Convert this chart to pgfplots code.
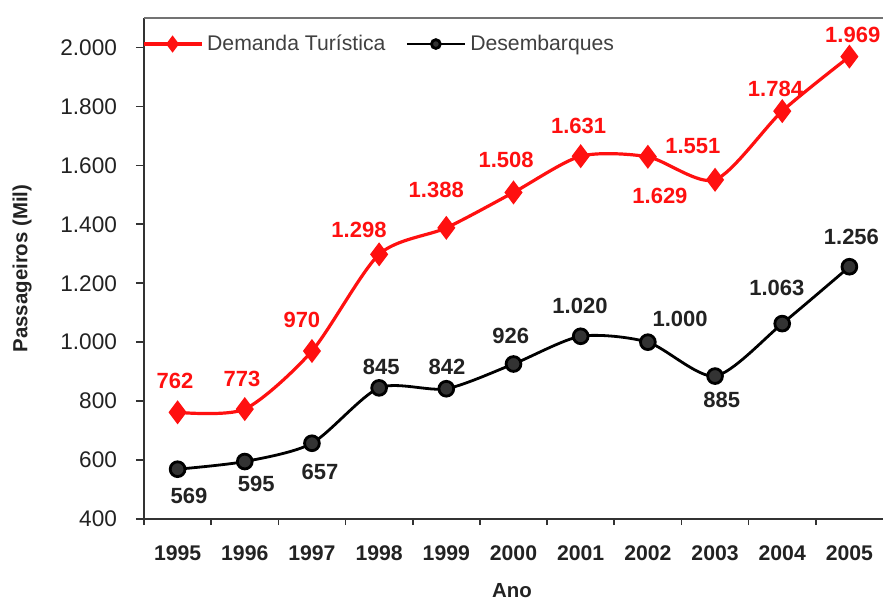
\documentclass[border=0pt]{standalone}
\usepackage{fontspec}
\setmainfont{Liberation Sans}
\usepackage{pgfplots}
\pgfplotsset{compat=1.18}
\definecolor{demred}{HTML}{FF1010}
\definecolor{desgray}{HTML}{222222}
\definecolor{markgray}{HTML}{333333}

\begin{document}
\begin{tikzpicture}
\begin{axis}[
  name=ax,
  scale only axis, width=369.5pt, height=250.5pt,
  xmin=-0.5, xmax=10.5, ymin=400, ymax=2100,
  axis x line*=bottom, axis y line*=left,
  axis line style={line width=1pt, draw=black!80},
  xtick={0,...,10},
  xticklabels={1995,1996,1997,1998,1999,2000,2001,2002,2003,2004,2005},
  minor xtick={-0.5,0.5,...,9.5},
  major x tick style={draw=none},
  ytick={400,600,...,2000},
  tick align=outside, major tick length=4pt, minor tick length=3pt,
  tick style={line width=0.8pt, black!80},
  /pgf/number format/assume math mode=true,
  /pgf/number format/1000 sep={.},
  yticklabel style={font=\fontsize{11.3}{12}\selectfont, text=desgray, xshift=-6pt},
  xticklabel style={font=\fontsize{10.6}{11}\selectfont\bfseries, text=desgray, yshift=-6pt},
  xlabel={Ano}, ylabel={Passageiros (Mil)},
  xlabel style={font=\fontsize{10.2}{11}\selectfont\bfseries, text=desgray, at={(axis description cs:0.498,-0.142)}, anchor=center},
  ylabel style={font=\fontsize{10.2}{11}\selectfont\bfseries, text=desgray, at={(axis description cs:-0.165,0.5)}, anchor=center},
  legend columns=2,
  legend style={at={(axis description cs:-0.006,0.948)}, anchor=west, draw=none, fill=none,
    font=\fontsize{10.6}{11}\selectfont, text=black!75, inner xsep=1pt,
    /tikz/every even column/.append style={column sep=8pt}},
  legend image code/.code={\draw[mark repeat=2,mark phase=2,#1] plot coordinates {(0pt,0pt)(14.5pt,0pt)(29pt,0pt)};},
  clip=false,
]
\addplot[demred, line width=1.6pt, smooth, tension=0.45, mark=diamond*, mark size=4.7pt,
  mark options={solid, fill=demred, draw=demred}, legend image post style={mark size=3pt}]
  coordinates {(0,762)(1,773)(2,970)(3,1298)(4,1388)(5,1508)(6,1631)(7,1629)(8,1551)(9,1784)(10,1969)};
\addlegendentry{Demanda Turística}

\addplot[black, line width=1.4pt, smooth, tension=0.45, mark=*, mark size=3.7pt,
  mark options={solid, fill=markgray, draw=black}, legend image post style={mark size=2.2pt}]
  coordinates {(0,569)(1,595)(2,657)(3,845)(4,842)(5,926)(6,1020)(7,1000)(8,885)(9,1063)(10,1256)};
\addlegendentry{Desembarques}

\begin{scope}[every node/.style={font=\fontsize{11}{12}\selectfont\bfseries, text=demred}]
\node at (axis cs:-0.04,869) {762};
\node at (axis cs:0.96,876) {773};
\node at (axis cs:1.85,1076) {970};
\node at (axis cs:2.70,1382) {1.298};
\node at (axis cs:3.85,1518) {1.388};
\node at (axis cs:4.89,1620) {1.508};
\node at (axis cs:5.97,1735) {1.631};
\node at (axis cs:7.67,1664) {1.551};
\node at (axis cs:7.18,1497) {1.629};
\node at (axis cs:8.90,1861) {1.784};
\node at (axis cs:10.05,2044) {1.969};
\end{scope}
\begin{scope}[every node/.style={font=\fontsize{11}{12}\selectfont\bfseries, text=desgray}]
\node at (axis cs:0.17,478) {569};
\node at (axis cs:1.17,519) {595};
\node at (axis cs:2.12,560) {657};
\node at (axis cs:3.03,916) {845};
\node at (axis cs:4.01,916) {842};
\node at (axis cs:4.96,1022) {926};
\node at (axis cs:5.99,1124) {1.020};
\node at (axis cs:7.48,1080) {1.000};
\node at (axis cs:8.10,804) {885};
\node at (axis cs:8.92,1185) {1.063};
\node at (axis cs:10.03,1358) {1.256};
\end{scope}
\end{axis}
\draw[black!55, line width=1pt] (ax.north west) -- (ax.north east);
\pgfresetboundingbox
\path[use as bounding box] ([xshift=-72pt,yshift=-40pt]ax.south west) rectangle ([yshift=9pt]ax.north east);
\end{tikzpicture}
\end{document}
